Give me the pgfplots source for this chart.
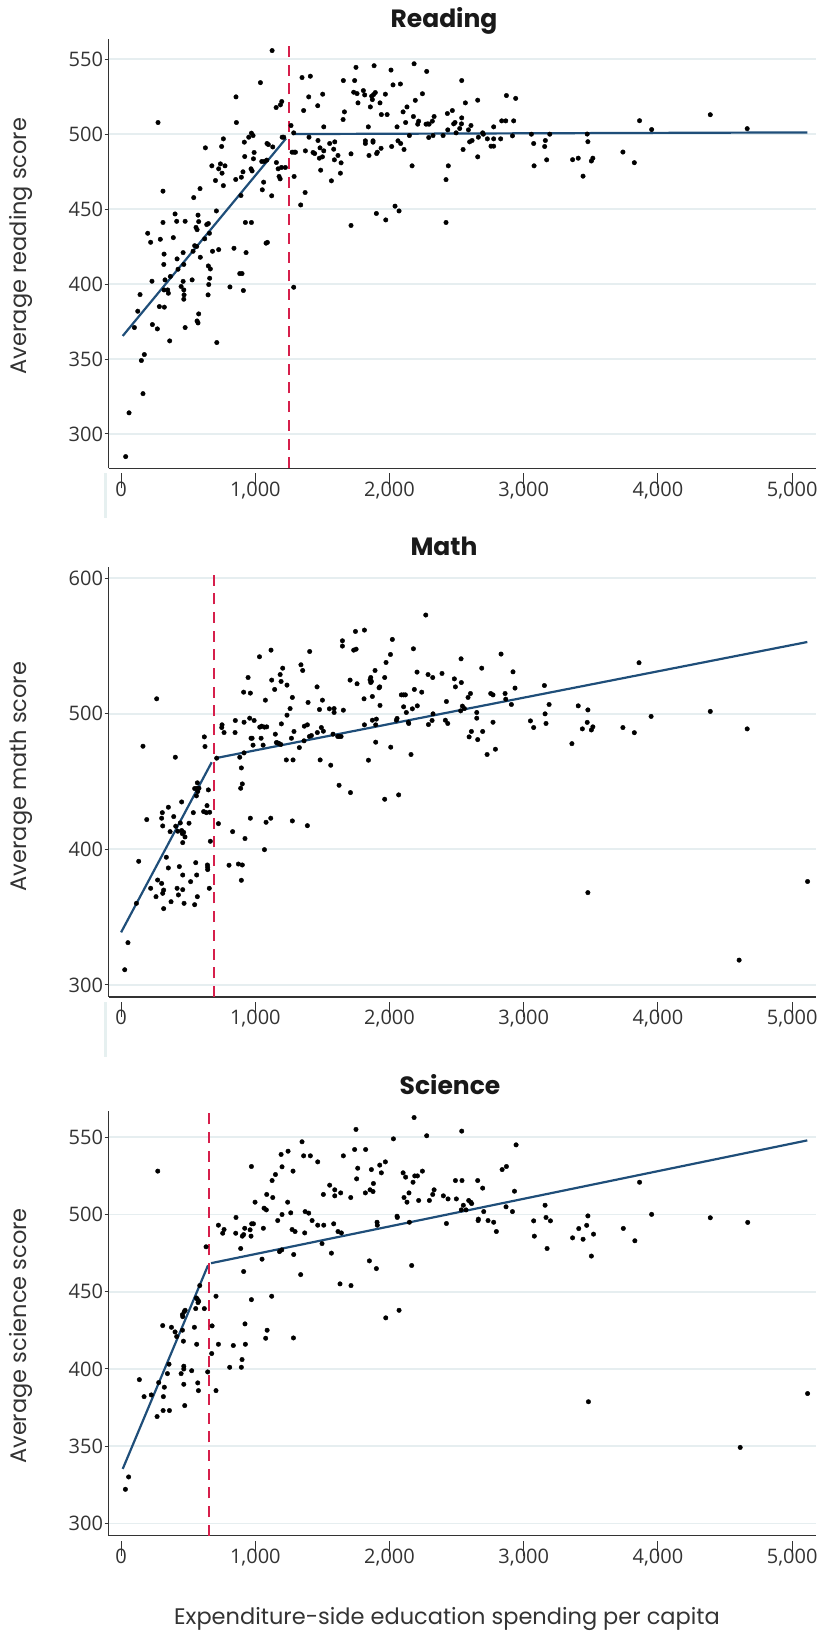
\documentclass[border=0pt]{standalone}
\usepackage{fontspec}
\setmainfont{Poppins}
\newfontfamily\tickfont{Open Sans}
\usepackage{pgfplots}
\usepackage{pgfplotstable}
\pgfplotsset{compat=1.18}
\definecolor{trend}{HTML}{1F4E79}
\definecolor{cut}{HTML}{D61F4B}
\definecolor{gridc}{HTML}{E6EEF0}
\definecolor{axc}{HTML}{333333}
\definecolor{txt}{HTML}{333333}
\definecolor{barc}{HTML}{E6F0F0}

\pgfplotstableread{
x y
34 284.9
59 314.1
99 371.0
124 381.9
141 393.0
151 349.0
163 326.9
173 353.0
198 433.9
220 427.9
230 401.9
233 373.0
270 370.1
275 507.8
285 385.0
292 429.9
312 462.0
312 441.1
320 420.0
318 413.1
322 384.6
327 402.8
320 396.1
347 396.1
352 393.9
362 362.1
367 405.1
389 431.0
402 446.8
414 441.9
417 416.8
424 409.9
447 398.4
462 421.0
467 413.1
462 401.8
467 396.1
469 392.8
467 389.9
477 371.0
477 441.9
529 402.8
536 421.9
541 457.7
548 425.6
558 437.8
566 436.3
563 425.1
573 446.0
578 441.7
566 375.4
573 374.1
578 380.1
590 417.9
588 463.7
623 430.2
628 490.9
638 439.7
650 440.4
658 433.9
650 412.1
665 410.1
660 403.9
653 399.7
648 392.8
676 478.9
681 421.9
703 469.1
710 448.8
713 361.0
727 423.0
727 476.9
740 480.2
749 491.8
752 474.0
762 496.9
762 465.7
774 478.9
811 398.1
841 423.9
854 469.8
856 524.9
859 507.8
884 407.0
896 471.3
893 459.1
901 407.0
911 395.7
908 474.9
921 485.1
918 494.7
926 441.1
931 421.0
951 498.0
971 500.7
983 499.1
971 441.1
968 476.9
976 475.5
991 487.8
986 483.6
1038 534.4
1048 481.8
1052 462.9
1062 468.0
1067 481.8
1085 482.7
1087 493.8
1097 493.1
1080 427.3
1090 427.8
1122 458.9
1125 555.8
1130 491.5
1155 517.8
1157 481.1
1170 476.9
1177 471.8
1185 470.2
1187 519.6
1197 521.8
1195 477.8
1200 498.0
1212 498.0
1224 477.8
1266 505.8
1274 488.0
1286 500.9
1289 488.0
1299 488.0
1289 471.8
1286 397.9
1338 452.8
1348 537.8
1360 515.8
1371 461.1
1373 488.9
1398 524.9
1400 498.0
1410 538.7
1430 487.8
1442 487.1
1465 519.0
1467 495.8
1477 484.0
1482 490.9
1487 476.0
1500 484.9
1502 526.7
1510 488.9
1510 504.9
1554 493.8
1567 468.9
1584 490.0
1592 494.9
1589 482.9
1616 485.8
1634 474.0
1639 480.9
1654 509.8
1656 535.8
1664 514.9
1713 439.1
1713 486.9
1740 535.8
1733 528.0
1750 544.6
1758 527.1
1765 520.9
1805 529.1
1820 495.6
1820 493.8
1815 526.2
1842 504.9
1847 485.8
1857 518.2
1867 525.4
1872 523.1
1882 526.5
1877 495.6
1877 494.7
1885 545.7
1894 527.8
1904 487.1
1909 488.0
1902 447.1
1929 520.9
1937 490.6
1939 513.1
1969 526.7
1972 442.8
1982 513.1
2011 542.8
2016 491.8
2026 532.9
2041 452.0
2056 504.9
2063 495.6
2071 448.8
2081 533.5
2083 493.8
2101 514.9
2108 489.8
2120 507.8
2130 518.2
2148 499.1
2168 478.9
2178 511.8
2183 547.0
2192 522.6
2210 506.7
2217 508.7
2245 527.0
2277 541.9
2272 506.7
2285 506.9
2295 506.7
2292 497.8
2319 508.7
2332 511.8
2324 499.1
2399 499.1
2421 469.7
2421 441.1
2431 513.8
2434 502.9
2438 478.9
2468 515.8
2478 506.9
2488 507.8
2496 500.9
2523 503.8
2536 506.9
2538 535.8
2538 510.9
2548 489.8
2565 520.9
2588 502.9
2597 494.9
2607 505.8
2615 495.8
2657 484.9
2657 522.7
2662 498.0
2694 500.9
2699 500.0
2729 496.9
2756 492.0
2776 492.0
2776 504.9
2776 496.9
2828 496.9
2836 508.9
2866 508.9
2871 525.8
2916 498.9
2925 508.9
2940 523.9
3057 500.0
3074 493.8
3077 478.9
3161 495.8
3156 491.8
3171 482.9
3194 500.0
3364 483.0
3406 484.0
3442 472.0
3473 500.1
3478 495.0
3504 482.1
3515 484.0
3739 488.1
3824 481.0
3863 509.0
3953 503.1
4390 513.0
4665 503.7
}\readingdata

\pgfplotstableread{
x y
27 311.2
51 331.2
114 360.2
131 391.2
163 476.1
191 422.0
220 371.3
260 365.1
265 511.1
272 377.4
302 374.9
307 427.1
302 423.0
310 417.3
310 367.6
317 370.0
317 356.3
337 394.2
352 386.3
352 431.1
365 413.1
372 361.4
392 424.2
404 468.0
407 417.1
417 371.3
422 413.4
427 366.4
434 387.3
441 419.5
451 435.0
451 413.9
456 411.6
466 412.6
459 405.0
459 381.1
459 370.3
469 360.2
476 409.2
506 419.3
518 376.2
538 427.1
548 444.9
548 359.2
556 390.2
561 439.5
563 381.1
568 449.1
571 442.7
566 445.1
580 445.1
568 365.1
615 427.9
620 483.0
625 475.9
635 427.1
640 432.3
643 388.5
645 385.1
645 386.8
650 443.9
660 427.4
657 371.3
665 406.0
712 467.3
725 419.0
752 491.9
750 489.9
767 486.2
804 388.3
831 413.1
849 486.2
851 495.1
874 389.2
884 468.0
896 460.1
903 388.5
896 377.2
891 445.1
903 448.3
916 471.2
913 516.0
916 493.8
923 408.0
946 526.8
958 496.8
963 515.3
963 423.0
968 482.0
976 482.0
983 476.9
991 495.1
1031 542.1
1033 490.2
1043 482.0
1058 476.9
1048 490.9
1068 490.2
1068 399.8
1075 510.1
1080 420.0
1085 490.4
1117 547.0
1122 524.9
1115 423.0
1144 518.0
1149 485.0
1157 478.8
1165 478.6
1177 478.1
1185 529.0
1190 477.4
1192 523.9
1194 492.6
1204 533.7
1231 466.0
1236 521.2
1236 499.0
1259 503.9
1269 482.0
1276 512.1
1276 421.0
1281 466.0
1288 487.0
1328 475.1
1340 536.2
1353 532.0
1363 480.1
1365 490.9
1388 491.9
1388 417.5
1393 508.4
1405 546.0
1403 483.3
1418 484.0
1460 519.9
1462 486.2
1478 503.2
1483 466.0
1492 489.9
1500 510.1
1507 487.2
1552 503.7
1562 462.1
1579 485.0
1587 503.9
1587 501.0
1614 483.3
1624 447.3
1626 483.3
1639 483.3
1649 550.0
1649 553.9
1656 502.7
1706 524.9
1709 441.9
1733 547.0
1746 560.8
1751 547.7
1758 522.2
1813 491.9
1810 511.1
1813 561.8
1843 465.8
1855 525.1
1860 526.8
1865 523.9
1860 523.1
1872 512.8
1872 495.3
1892 532.0
1897 479.1
1902 496.1
1897 491.9
1922 519.2
1927 519.9
1929 506.2
1964 526.8
1964 437.0
1974 537.9
2007 543.8
2009 475.4
2021 554.9
2051 495.3
2056 496.6
2068 440.2
2088 514.0
2105 514.0
2118 514.0
2105 505.2
2125 501.0
2140 493.8
2143 492.9
2160 470.0
2170 503.7
2178 548.0
2185 518.0
2205 530.8
2207 505.9
2240 516.0
2270 572.9
2287 529.0
2290 492.1
2317 495.1
2322 526.8
2324 500.0
2391 529.8
2416 495.3
2424 509.1
2434 492.9
2483 525.8
2491 519.9
2533 540.6
2535 523.1
2530 502.2
2543 505.7
2558 503.9
2585 512.1
2593 483.0
2603 515.0
2610 487.0
2650 501.0
2650 496.8
2657 481.0
2687 533.7
2694 487.0
2727 470.0
2754 515.0
2771 514.0
2771 493.8
2789 473.9
2831 544.1
2861 515.0
2866 510.8
2908 506.9
2920 531.0
2935 519.0
3050 494.8
3074 489.9
3154 520.9
3159 500.0
3166 492.9
3189 506.9
3359 478.0
3406 505.9
3437 488.9
3473 493.7
3478 502.9
3478 368.1
3504 488.1
3515 490.4
3739 489.9
3824 486.1
3859 537.7
3949 498.1
4390 501.8
4605 318.3
4665 488.9
5115 376.3
}\mathdata

\pgfplotstableread{
x y
32 322.1
56 330.1
136 393.1
171 382.1
225 383.2
268 369.2
273 528.1
280 391.2
310 428.1
313 373.1
315 382.1
322 388.2
345 397.0
360 373.1
357 403.1
375 427.0
402 424.0
414 421.0
447 397.0
457 425.1
457 435.2
459 433.9
464 418.0
467 401.8
467 400.0
467 390.1
471 437.2
474 376.3
477 438.0
526 398.9
546 427.0
556 439.1
563 416.0
561 446.0
568 445.2
573 443.0
578 443.9
571 391.0
576 386.0
586 454.0
620 439.1
633 479.1
645 398.1
678 427.9
675 410.0
707 447.1
707 386.0
725 416.0
757 487.9
767 490.3
725 493.1
809 401.1
836 415.2
854 487.9
856 498.1
891 478.0
896 401.1
901 406.1
903 486.0
913 487.0
921 491.1
913 463.1
923 429.2
926 416.0
961 490.1
968 486.0
973 494.0
986 494.0
971 531.1
971 444.9
998 508.0
1050 471.1
1060 491.1
1065 504.1
1077 419.9
1082 503.0
1088 425.1
1085 513.0
1125 522.0
1122 447.1
1130 511.0
1150 525.9
1167 496.1
1180 476.0
1192 538.9
1199 530.9
1199 500.0
1197 477.1
1241 508.0
1244 541.0
1264 501.1
1274 490.3
1281 528.1
1286 474.1
1284 420.1
1296 489.0
1338 461.1
1348 547.1
1360 538.0
1371 501.9
1368 488.1
1398 500.9
1410 538.0
1423 496.1
1465 534.1
1465 493.1
1497 481.2
1510 493.1
1507 513.0
1554 519.0
1567 475.0
1584 494.0
1592 516.0
1592 512.1
1616 489.0
1631 455.1
1636 514.0
1641 488.1
1656 538.0
1711 511.0
1713 454.0
1740 542.1
1750 555.1
1755 523.1
1763 530.0
1822 542.1
1820 514.0
1850 470.0
1855 516.0
1865 529.1
1877 514.9
1880 520.1
1902 465.0
1907 495.0
1909 493.1
1927 532.0
1939 527.0
1969 534.1
1972 433.1
2029 549.0
2056 498.9
2058 498.1
2071 438.0
2101 527.0
2108 511.0
2120 524.2
2130 508.0
2145 514.0
2148 495.0
2165 467.0
2175 520.9
2188 525.0
2208 525.0
2183 562.8
2217 509.1
2245 528.1
2277 551.0
2297 509.1
2322 513.0
2332 516.0
2401 512.1
2424 494.2
2436 510.1
2491 522.0
2498 510.1
2535 503.0
2538 554.0
2540 522.0
2550 506.0
2570 503.0
2590 509.1
2605 508.0
2612 507.1
2657 522.0
2660 496.1
2662 497.0
2694 517.1
2702 501.9
2734 496.1
2776 495.0
2796 489.0
2839 529.1
2871 531.1
2868 505.0
2916 501.9
2931 515.1
2943 545.1
3074 495.9
3079 486.0
3159 506.0
3166 498.1
3174 478.0
3199 495.9
3364 484.9
3410 490.9
3442 484.0
3469 493.0
3478 499.1
3482 378.8
3504 473.1
3520 487.3
3742 491.0
3828 483.0
3863 520.9
3953 500.1
4390 497.9
4613 349.2
4669 494.9
5115 384.1
}\sciencedata

\pgfplotsset{
  panel/.style={
    scale only axis, width=707.8pt,
    xmin=-94, xmax=5180,
    axis x line*=bottom, axis y line*=left,
    axis line style={axc, line width=1.3pt, -},
    xtick={0,1000,2000,3000,4000,5000},
    xticklabels={0,{1,000},{2,000},{3,000},{4,000},{5,000}},
    tick align=outside,
    xtick style={axc, line width=1.1pt, /pgfplots/major tick length=15pt, yshift=-5pt},
    ytick style={axc, line width=1pt, /pgfplots/major tick length=4pt},
    ymajorgrids,
    major grid style={gridc, line width=1.8pt},
    tick label style={font=\tickfont\fontsize{20pt}{24pt}\selectfont, text=txt},
    yticklabel style={inner sep=1pt},
    xticklabel style={yshift=-5.5pt},
    /pgf/number format/assume math mode=true,
  },
  dots/.style={only marks, mark=*, mark size=2.25pt, mark options={fill=black, draw=none}},
  tl/.style={trend, line width=2.2pt},
  dl/.style={cut, line width=2pt, dash pattern=on 11pt off 7.7pt},
}

\begin{document}
\begin{tikzpicture}
\useasboundingbox (0,0) rectangle (822pt,1633pt);

% Reading
\begin{axis}[panel, at={(108.5pt,1164.7pt)}, anchor=south west, height=429.7pt,
  ymin=277.1, ymax=563.8, ytick={300,350,400,450,500,550}]
\addplot[dots] table[x=x,y=y] {\readingdata};
\addplot[tl] coordinates {(12,365.4) (1229,497.2)};
\addplot[tl] coordinates {(1275,500.1) (5113,501.2)};
\addplot[dl] coordinates {(1250,277.1) (1250,563.8)};
\end{axis}

% Math
\begin{axis}[panel, at={(108.5pt,636pt)}, anchor=south west, height=429.8pt,
  ymin=291.1, ymax=608.2, ytick={300,400,500,600}]
\addplot[dots] table[x=x,y=y] {\mathdata};
\addplot[tl] coordinates {(0,338.8) (675,464.3)};
\addplot[tl] coordinates {(703,467.3) (5113,553)};
\addplot[dl] coordinates {(695,291.1) (695,608.2)};
\end{axis}

% Science
\begin{axis}[panel, at={(108.5pt,97.2pt)}, anchor=south west, height=424.6pt,
  ymin=292, ymax=566.9, ytick={300,350,400,450,500,550}]
\addplot[dots] table[x=x,y=y] {\sciencedata};
\addplot[tl] coordinates {(12,335.3) (648,467.2)};
\addplot[tl] coordinates {(670,468.5) (5113,548)};
\addplot[dl] coordinates {(653,292) (653,566.9)};
\end{axis}

\fill[barc] (103.5pt,1115pt) rectangle (106.5pt,1160pt);
\fill[barc] (103.5pt,576pt) rectangle (106.5pt,631pt);

\node[anchor=base, font=\bfseries\fontsize{25pt}{30pt}\selectfont, text=black!90] at (444pt,1605.5pt) {Reading};
\node[anchor=base, font=\bfseries\fontsize{25pt}{30pt}\selectfont, text=black!90] at (444pt,1077pt) {Math};
\node[anchor=base, font=\bfseries\fontsize{25pt}{30pt}\selectfont, text=black!90] at (450pt,538.3pt) {Science};

\node[anchor=base, rotate=90, font=\fontsize{22.5pt}{27pt}\selectfont, text=txt] at (27pt,1387pt) {Average reading score};
\node[anchor=base, rotate=90, font=\fontsize{22.5pt}{27pt}\selectfont, text=txt] at (27pt,856.5pt) {Average math score};
\node[anchor=base, rotate=90, font=\fontsize{22.5pt}{27pt}\selectfont, text=txt] at (27pt,297pt) {Average science score};

\node[anchor=base, font=\fontsize{22.5pt}{27pt}\selectfont, text=txt] at (447pt,9pt) {Expenditure-side education spending per capita};
\end{tikzpicture}
\end{document}
